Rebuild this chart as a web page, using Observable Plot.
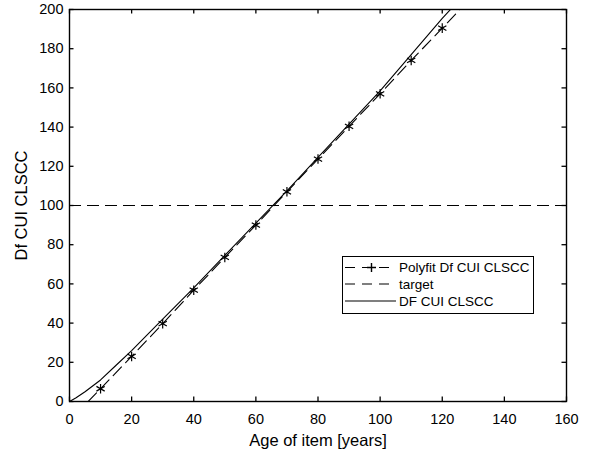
<!DOCTYPE html>
<html>
<head>
<meta charset="utf-8">
<script src="https://cdn.jsdelivr.net/npm/d3@7"></script>
<script src="https://cdn.jsdelivr.net/npm/@observablehq/plot@0.6"></script>
<style>
  html, body { margin: 0; padding: 0; background: #fff; }
  #wrap { position: relative; width: 591px; height: 455px; font-family: "Liberation Sans", Arial, sans-serif; }
  #legend { position: absolute; left: 342px; top: 256px; }
  #wrap svg g[aria-label="x-axis label"] text, #wrap svg g[aria-label="y-axis label"] text { font-size: 16.5px; }
</style>
</head>
<body>
<div id="wrap"></div>
<script>
// ---- data ----
const seriesNames = ["Polyfit Df CUI CLSCC", "target", "DF CUI CLSCC"];
const xTicks = [0, 20, 40, 60, 80, 100, 120, 140, 160];
const yTicks = [0, 20, 40, 60, 80, 100, 120, 140, 160, 180, 200];

// polyfit curve (dashed)
const polyX = [6, 10, 20, 30, 40, 50, 60, 70, 80, 90, 100, 110, 120, 126];
const polyY = [0, 6.5, 23, 39.7, 56.8, 73.5, 90, 107, 123.7, 140.4, 157, 174, 190.5, 200.5];
// polyfit markers
const markX = [10, 20, 30, 40, 50, 60, 70, 80, 90, 100, 110, 120];
const markY = [6.5, 23, 39.7, 56.8, 73.5, 90, 107, 123.7, 140.4, 157, 174, 190.5];
// DF CUI CLSCC (solid)
const dfX = [0, 2, 5, 10, 15, 20, 30, 40, 50, 60, 70, 80, 90, 100, 110, 120, 125];
const dfY = [0, 1.8, 5, 11, 18.5, 26, 42, 58, 74.5, 91, 107.5, 124.5, 141.5, 158.5, 177, 195.5, 204];
// target
const targetY = 100;

const poly = polyX.map((x, i) => ({x, y: polyY[i]}));
const marks = markX.map((x, i) => ({x, y: markY[i]}));
const df = dfX.map((x, i) => ({x, y: dfY[i]}));

const W = 591, H = 455, mL = 69, mR = 25, mT = 9, mB = 54;
const innerH = H - mT - mB, innerW = W - mL - mR;
const tickLen = 4.5;

const chart = Plot.plot({
  width: W, height: H,
  marginLeft: mL, marginRight: mR, marginTop: mT, marginBottom: mB,
  style: {fontFamily: '"Liberation Sans", Arial, sans-serif', fontSize: "14.5px", color: "#000", background: "#fff"},
  x: {domain: [0, 160]},
  y: {domain: [0, 200]},
  marks: [
    Plot.ruleY([targetY], {stroke: "#000", strokeWidth: 1.1, strokeDasharray: "12,6"}),
    Plot.line(poly, {x: "x", y: "y", stroke: "#000", strokeWidth: 1.1, strokeDasharray: "12,6", clip: true}),
    Plot.line(df, {x: "x", y: "y", stroke: "#000", strokeWidth: 1.1, clip: true}),
    Plot.dot(marks, {x: "x", y: "y", symbol: "asterisk", r: 4.5, stroke: "#000", strokeWidth: 1.2}),
    // inward ticks on all four sides
    Plot.tickX(xTicks, {x: d => d, insetTop: innerH - tickLen, stroke: "#000", strokeWidth: 1.3}),
    Plot.tickX(xTicks, {x: d => d, insetBottom: innerH - tickLen, stroke: "#000", strokeWidth: 1.3}),
    Plot.tickY(yTicks, {y: d => d, insetRight: innerW - tickLen, stroke: "#000", strokeWidth: 1.3}),
    Plot.tickY(yTicks, {y: d => d, insetLeft: innerW - tickLen, stroke: "#000", strokeWidth: 1.3}),
    Plot.frame({stroke: "#000", strokeWidth: 1.4}),
    Plot.axisX({ticks: xTicks, tickSize: 0, tickPadding: 12, fontSize: 14.5,
      label: "Age of item [years]", labelAnchor: "center", labelArrow: "none", labelOffset: 44}),
    Plot.axisY({ticks: yTicks, tickSize: 0, tickPadding: 6, fontSize: 14.5,
      label: "Df CUI CLSCC", labelAnchor: "center", labelArrow: "none", labelOffset: 54})
  ]
});
document.getElementById("wrap").appendChild(chart);

// legend (inside plot area, boxed)
const lg = d3.create("svg").attr("id", "legend").attr("width", 193).attr("height", 59)
  .style("font-family", '"Liberation Sans", Arial, sans-serif').style("font-size", "13.5px");
lg.append("rect").attr("x", 0.5).attr("y", 0.5).attr("width", 191).attr("height", 57)
  .attr("fill", "#fff").attr("stroke", "#000").attr("stroke-width", 1);
const rowsY = [11.5, 28, 45];
const styles = [{dash: true, plus: true}, {dash: true, plus: false}, {dash: false, plus: false}];
seriesNames.forEach((name, i) => {
  const y = rowsY[i];
  const l = lg.append("line").attr("x1", 3).attr("x2", 54).attr("y1", y).attr("y2", y)
    .attr("stroke", "#000").attr("stroke-width", 1.2);
  if (styles[i].dash) l.attr("stroke-dasharray", "10,7");
  if (styles[i].plus) {
    lg.append("path").attr("d", `M${29.5 - 4.5},${y}H${29.5 + 4.5}M29.5,${y - 4.5}V${y + 4.5}`)
      .attr("stroke", "#000").attr("stroke-width", 1.4);
  }
  lg.append("text").attr("x", 57).attr("y", y).attr("dy", "0.35em").attr("fill", "#000").text(name);
});
document.getElementById("wrap").appendChild(lg.node());
</script>
</body>
</html>
